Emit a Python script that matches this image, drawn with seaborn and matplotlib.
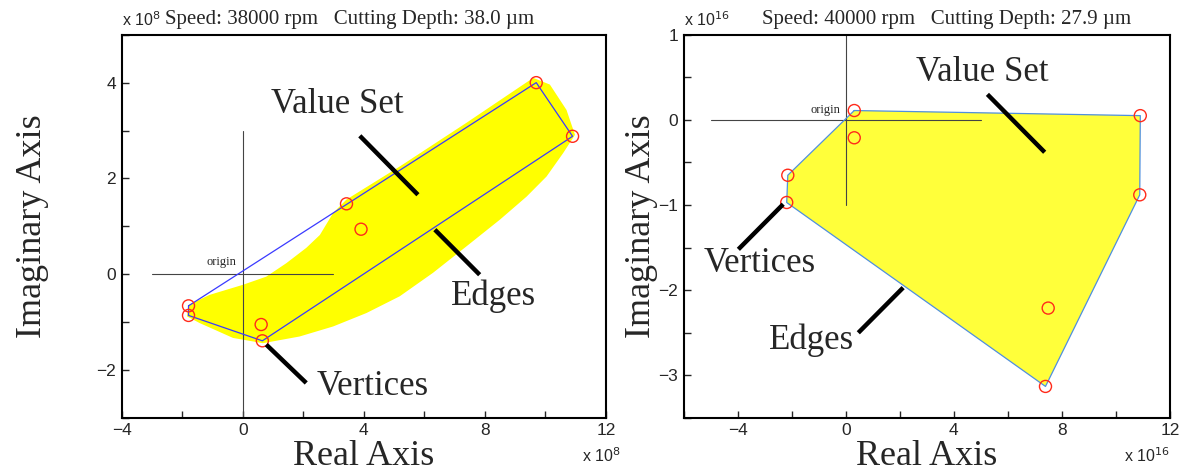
import numpy as np
import pandas as pd
import matplotlib.pyplot as plt
import seaborn as sns
from matplotlib.ticker import MultipleLocator

sns.set_style('white')
plt.rcParams['font.family'] = ['Liberation Sans', 'DejaVu Sans']
SERIF = ['Liberation Serif', 'DejaVu Serif']

# ---- left panel: 38000 rpm, 38.0 um (units of 1e8) ----
left_title = 'Speed: 38000 rpm   Cutting Depth: 38.0 µm'
left_exp = '8'
# outline of the value set (cloud of points)
left_set_re = [-1.79, -1.09, 0.01, 0.78, 1.44, 2.10, 2.55, 2.99, 3.43, 5.19, 7.39, 9.60,
               10.15, 10.70, 10.98, 10.59, 10.04, 9.38, 8.50, 7.39, 6.29, 5.19, 4.09,
               2.99, 1.88, 0.67, -0.32, -1.42, -1.84]
left_set_im = [-0.64, -0.43, -0.22, -0.05, 0.23, 0.55, 0.82, 1.28, 1.56, 2.25, 3.16, 4.10,
               3.96, 3.43, 2.91, 2.53, 2.04, 1.62, 1.14, 0.58, 0.03, -0.46, -0.81,
               -1.09, -1.30, -1.44, -1.33, -1.02, -0.88]
# edges of the bounding polygon
left_edge_re = [-1.79, 9.70, 10.90, 0.65, -1.79, -1.79]
left_edge_im = [-0.66, 4.00, 2.88, -1.39, -0.86, -0.66]
# vertices
left_vert_re = [-1.79, -1.79, 0.61, 0.65, 3.43, 3.91, 9.70, 10.90]
left_vert_im = [-0.66, -0.86, -1.05, -1.39, 1.47, 0.94, 4.00, 2.88]

# ---- right panel: 40000 rpm, 27.9 um (units of 1e16) ----
right_title = 'Speed: 40000 rpm   Cutting Depth: 27.9 µm'
right_exp = '16'
right_edge_re = [0.31, 10.90, 10.88, 7.39, -2.19, -2.15, 0.31]
right_edge_im = [0.11, 0.05, -0.88, -3.13, -0.97, -0.65, 0.11]
right_vert_re = [0.31, 0.31, 10.90, 10.88, -2.15, -2.19, 7.49, 7.39]
right_vert_im = [0.11, -0.21, 0.05, -0.88, -0.65, -0.97, -2.21, -3.13]

fig = plt.figure(figsize=(11.81, 4.76), dpi=100)
ax1 = fig.add_axes([0.103, 0.122, 0.410, 0.805])
ax2 = fig.add_axes([0.579, 0.122, 0.4117, 0.805])


def draw_panel(ax, set_re, set_im, edge_re, edge_im, vert_re, vert_im,
               fill_col, edge_col):
    ax.fill(set_re, set_im, color=fill_col, lw=0, zorder=1)
    edges = pd.DataFrame({'re': edge_re, 'im': edge_im})
    sns.lineplot(data=edges, x='re', y='im', sort=False, estimator=None,
                 color=edge_col, lw=0.9, ax=ax, zorder=3)
    verts = pd.DataFrame({'re': vert_re, 'im': vert_im})
    sns.scatterplot(data=verts, x='re', y='im', marker='o', s=75,
                    facecolors='none', edgecolor='#ff2a1a', linewidth=1.0,
                    ax=ax, zorder=4)


draw_panel(ax1, left_set_re, left_set_im, left_edge_re, left_edge_im,
           left_vert_re, left_vert_im, '#ffff00', '#3a3aff')
draw_panel(ax2, right_edge_re, right_edge_im, right_edge_re, right_edge_im,
           right_vert_re, right_vert_im, '#ffff3a', '#4f8fdf')

# origin cross
ax1.plot([-3, 3], [0, 0], color='#444444', lw=0.8, zorder=2)
ax1.plot([0, 0], [-3, 3], color='#444444', lw=0.8, zorder=2)
ax1.text(-0.7, 0.12, 'origin', family=SERIF, fontsize=9, ha='center', va='bottom')
ax2.plot([-5, 5], [0, 0], color='#444444', lw=0.8, zorder=2)
ax2.plot([0, 0], [-1, 1], color='#444444', lw=0.8, zorder=2)
ax2.text(-0.2, 0.05, 'origin', family=SERIF, fontsize=9, ha='right', va='bottom')

# callouts
lab = dict(family=SERIF, fontsize=25, ha='center', va='center', zorder=6)
ln = dict(color='black', lw=3.2, solid_capstyle='butt', zorder=6)
ax1.text(3.14, 3.54, 'Value Set', **lab)
ax1.plot([3.87, 5.79], [2.89, 1.66], **ln)
ax1.text(8.3, -0.45, 'Edges', **lab)
ax1.plot([6.35, 7.83], [0.93, -0.01], **ln)
ax1.text(4.3, -2.35, 'Vertices', **lab)
ax1.plot([0.78, 2.10], [-1.47, -2.27], **ln)

ax2.text(5.04, 0.56, 'Value Set', **lab)
ax2.plot([5.24, 7.36], [0.30, -0.38], **ln)
ax2.text(-3.18, -1.69, 'Vertices', **lab)
ax2.plot([-3.98, -2.32], [-1.52, -0.99], **ln)
ax2.text(-1.26, -2.59, 'Edges', **lab)
ax2.plot([0.46, 2.12], [-2.50, -1.97], **ln)

for ax, xlim, ylim, ymaj, ymin, title, ex, tx, ypad, bx in [
        (ax1, (-4, 12), (-3, 5), 2, 1, left_title, left_exp, 0.09, 34, 1.03),
        (ax2, (-6, 12), (-3.5, 1), 1, 0.5, right_title, right_exp, 0.16, 0, 1.0)]:
    ax.set_xlim(*xlim)
    ax.set_ylim(*ylim)
    ax.xaxis.set_major_locator(MultipleLocator(4))
    ax.xaxis.set_minor_locator(MultipleLocator(2))
    ax.yaxis.set_major_locator(MultipleLocator(ymaj))
    ax.yaxis.set_minor_locator(MultipleLocator(ymin))
    ax.tick_params(which='both', direction='in', length=5, width=1,
                   bottom=True, left=True, top=False, right=False,
                   labelsize=12.5, pad=4)
    for s in ax.spines.values():
        s.set_color('black')
        s.set_linewidth(1.5)
    ax.set_xlabel('Real Axis', family=SERIF, fontsize=26, labelpad=1)
    ax.set_ylabel('Imaginary Axis', family=SERIF, fontsize=26, labelpad=ypad)
    ax.text(tx, 1.015, title, transform=ax.transAxes,
            family=SERIF, fontsize=15, ha='left', va='bottom')
    ax.text(0.0, 1.015, 'x 10$^{' + ex + '}$', transform=ax.transAxes,
            fontsize=11.5, ha='left', va='bottom')
    ax.text(bx, -0.075, 'x 10$^{' + ex + '}$', transform=ax.transAxes,
            fontsize=11.5, ha='right', va='top')

fig.savefig('out.png', dpi=100)
